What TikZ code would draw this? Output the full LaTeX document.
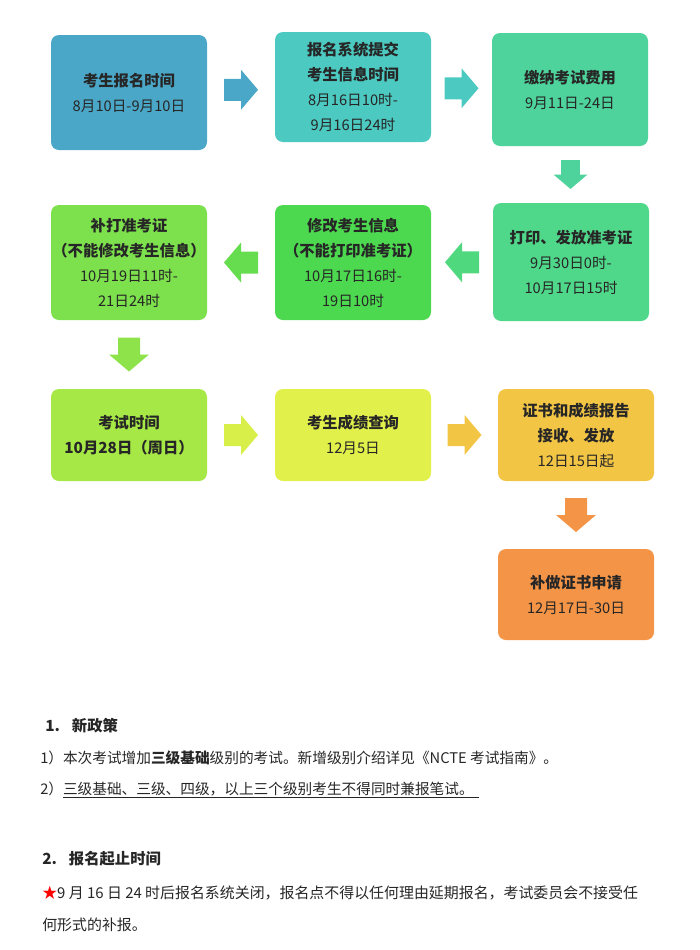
\documentclass[tikz,border=0pt]{standalone}
\usepackage{fontspec}
\setmainfont{Noto Sans CJK SC}
\usetikzlibrary{calc}

\definecolor{regblue}{HTML}{4BA7C7}
\definecolor{subteal}{HTML}{4CC9C0}
\definecolor{feemint}{HTML}{4DD39B}
\definecolor{prtgreen}{HTML}{50D88A}
\definecolor{modgreen}{HTML}{4DD94F}
\definecolor{repgreen}{HTML}{7DE04D}
\definecolor{examlime}{HTML}{A6E845}
\definecolor{scoreyel}{HTML}{E1F04A}
\definecolor{certgold}{HTML}{F3C545}
\definecolor{lateorg}{HTML}{F49447}

\newcommand{\ttl}[1]{{\fontsize{11.5}{18.75}\selectfont\bfseries #1}}

\tikzset{
  stagebox/.style={rounded corners=6pt, minimum width=117pt, inner sep=0pt,
    align=center, text=black!85, font=\fontsize{11}{18.75}\selectfont},
  bodytext/.style={anchor=base west, inner sep=0pt, text=black!85,
    font=\fontsize{11}{14}\selectfont},
  headtext/.style={bodytext, font=\fontsize{11.5}{14}\selectfont\bfseries},
  blockarrow/.pic={\fill[#1] (-17,-11) -- (0,-11) -- (0,-20) -- (17,0)
    -- (0,20) -- (0,11) -- (-17,11) -- cycle;}
}

\begin{document}
\begin{tikzpicture}[x=0.75pt, y=-0.75pt]
  \useasboundingbox (0,0) rectangle (700,950);

  \node[stagebox, fill=regblue,  minimum height=86.25pt] (reg)   at (129,92.5)
    {\ttl{考生报名时间}\\8月10日-9月10日};
  \node[stagebox, fill=subteal,  minimum height=82.5pt]  (sub)   at (353,87)
    {\ttl{报名系统提交}\\\ttl{考生信息时间}\\8月16日10时-\\9月16日24时};
  \node[stagebox, fill=feemint,  minimum height=84.75pt] (fee)   at (570,89.5)
    {\ttl{缴纳考试费用}\\9月11日-24日};

  \node[stagebox, fill=prtgreen, minimum height=88.5pt]  (print) at (571,262)
    {\ttl{打印、发放准考证}\\9月30日0时-\\10月17日15时};
  \node[stagebox, fill=modgreen, minimum height=86.25pt] (modify) at (353,262.5)
    {\ttl{修改考生信息}\\\ttl{（不能打印准考证）}\\10月17日16时-\\19日10时};
  \node[stagebox, fill=repgreen, minimum height=86.25pt] (reprint) at (129,262.5)
    {\ttl{补打准考证}\\\ttl{（不能修改考生信息）}\\10月19日11时-\\21日24时};

  \node[stagebox, fill=examlime, minimum height=69pt]    (exam)  at (129,435)
    {\ttl{考试时间}\\\ttl{10月28日（周日）}};
  \node[stagebox, fill=scoreyel, minimum height=69pt]    (score) at (353,435)
    {\ttl{考生成绩查询}\\12月5日};
  \node[stagebox, fill=certgold, minimum height=69pt]    (cert)  at (576,435)
    {\ttl{证书和成绩报告}\\\ttl{接收、发放}\\12日15日起};
  \node[stagebox, fill=lateorg,  minimum height=68.25pt] (late)  at (576,594.5)
    {\ttl{补做证书申请}\\12月17日-30日};

  \pic at ($(reg.east)!0.5!(sub.west)$) {blockarrow=regblue};
  \pic at ($(sub.east)!0.5!(fee.west)$) {blockarrow=subteal};
  \pic[rotate=-90, scale=0.85] at ($(fee.south)!0.5!(print.north)$) {blockarrow=feemint};
  \pic[rotate=180] at ($(print.west)!0.5!(modify.east)$) {blockarrow=prtgreen!80!modgreen};
  \pic[rotate=180] at ($(modify.west)!0.5!(reprint.east)$) {blockarrow=modgreen!50!repgreen};
  \pic[rotate=-90] at ($(reprint.south)!0.5!(exam.north)$) {blockarrow=repgreen!60!examlime};
  \pic at ($(exam.east)!0.5!(score.west)$) {blockarrow=scoreyel!85!examlime};
  \pic at ($(score.east)!0.5!(cert.west)$) {blockarrow=certgold};
  \pic[rotate=-90] at ($(cert.south)!0.5!(late.north)$) {blockarrow=lateorg};

  \node[headtext] (policy) at (45,731) {1.\hspace{9pt}新政策};
  \node[bodytext] (rule1) at (40,763)
    {1）本次考试增加\textbf{三级基础}级别的考试。新增级别介绍详见《NCTE 考试指南》。};
  \node[bodytext] (rule2) at (40,794)
    {2）\underline{三级基础、三级、四级，以上三个级别考生不得同时兼报笔试。\hspace{4pt}}};
  \node[headtext] (period) at (42,864) {2.\hspace{9pt}报名起止时间};
  \node[bodytext, font=\fontsize{11.2}{14}\selectfont] (close1) at (42,898)
    {{\color{red}★}9 月 16 日 24 时后报名系统关闭，报名点不得以任何理由延期报名，考试委员会不接受任};
  \node[bodytext, font=\fontsize{11.2}{14}\selectfont] (close2) at (42,930) {何形式的补报。};
\end{tikzpicture}
\end{document}
